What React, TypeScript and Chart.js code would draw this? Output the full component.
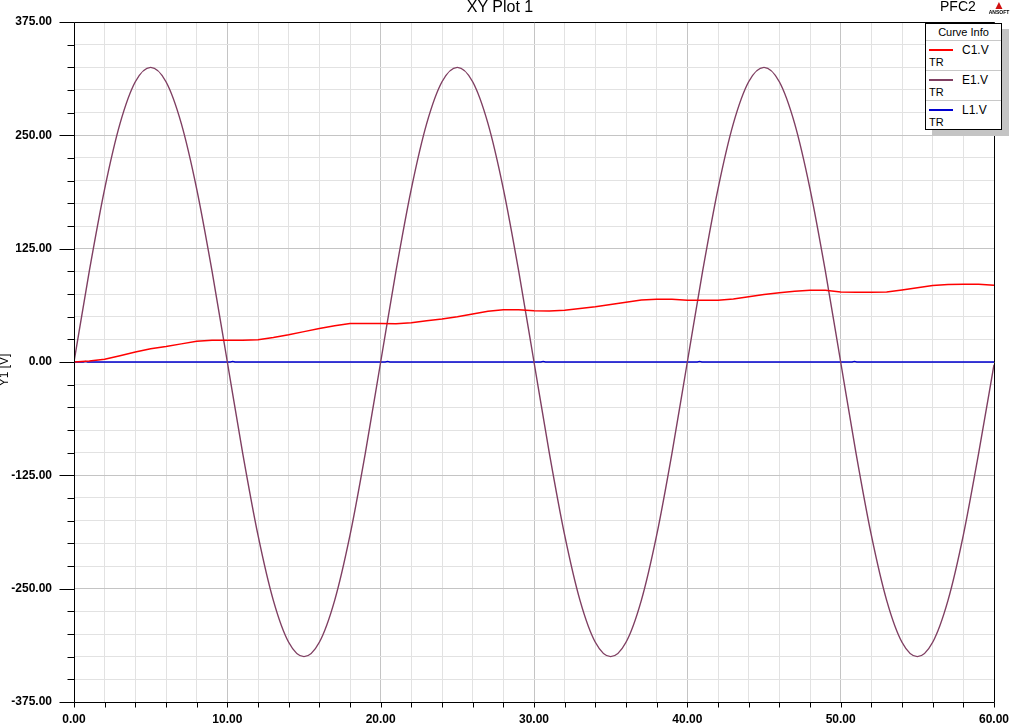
import React, { useEffect, useRef } from "react";
import { Chart, registerables } from "chart.js";

Chart.register(...registerables);

// Time axis (ms)
const timeMs = [
  0, 1, 2, 3, 4, 5, 6, 7, 8, 9, 10, 11, 12, 13, 14, 15, 16, 17, 18, 19, 20,
  21, 22, 23, 24, 25, 26, 27, 28, 29, 30, 31, 32, 33, 34, 35, 36, 37, 38, 39, 40,
  41, 42, 43, 44, 45, 46, 47, 48, 49, 50, 51, 52, 53, 54, 55, 56, 57, 58, 59, 60,
];

// E1.V source voltage (V)
const e1Values = [
  0, 100.4, 191.0, 262.9, 309.1, 325.0, 309.1, 262.9, 191.0, 100.4,
  0, -100.4, -191.0, -262.9, -309.1, -325.0, -309.1, -262.9, -191.0, -100.4,
  0, 100.4, 191.0, 262.9, 309.1, 325.0, 309.1, 262.9, 191.0, 100.4,
  0, -100.4, -191.0, -262.9, -309.1, -325.0, -309.1, -262.9, -191.0, -100.4,
  0, 100.4, 191.0, 262.9, 309.1, 325.0, 309.1, 262.9, 191.0, 100.4,
  0, -100.4, -191.0, -262.9, -309.1, -325.0, -309.1, -262.9, -191.0, -100.4,
  -3,
];

// C1.V capacitor voltage (V)
const c1Values = [
  0, 1, 3, 7, 11, 14.5, 17, 20, 22.8, 24,
  24, 24, 24.5, 27, 30, 33.5, 37, 40, 42.5, 42.6,
  42.4, 42.3, 43.3, 45.5, 47.5, 50, 53, 56, 57.5, 57.5,
  56.6, 56.2, 57.2, 59, 61, 63.5, 66, 68.3, 69.1, 69.1,
  68.2, 68, 68, 69.5, 72, 74.5, 76.5, 78, 79, 79,
  77.2, 76.9, 76.9, 77.2, 79.5, 82, 84.3, 85.5, 85.7, 85.7,
  84.6,
];

// L1.V inductor voltage (V)
const l1Times = [0, 0.6, 0.75, 0.9, 10.2, 10.35, 10.5, 20.3, 20.45, 20.6, 30.45, 30.6, 30.75, 40.65, 40.8, 40.95, 50.75, 50.9, 51.05, 60];
const l1Values = [0, 0, 0.7, 0, 0, 0.7, 0, 0, 0.7, 0, 0, 0.7, 0, 0, 0.7, 0, 0, 0.7, 0, 0];

const yMajorTicks = [-375, -250, -125, 0, 125, 250, 375];
const xMajorTicks = [0, 10, 20, 30, 40, 50, 60];

const FONT = "'Liberation Sans', Arial, sans-serif";
const COLOR_C1 = "#ff0000";
const COLOR_E1 = "#7f3f62";
const COLOR_L1 = "#0000d0";

const legendItems = [
  { name: "C1.V", color: COLOR_C1 },
  { name: "E1.V", color: COLOR_E1 },
  { name: "L1.V", color: COLOR_L1 },
];

const framePlugin = {
  id: "frame",
  afterDraw(chart: any) {
    const { ctx, chartArea } = chart;
    const xs = chart.scales.x;
    const ys = chart.scales.y;
    const L = Math.round(chartArea.left) + 0.5;
    const R = Math.round(chartArea.right) + 0.5;
    const T = Math.round(chartArea.top) + 0.5;
    const B = Math.round(chartArea.bottom) + 0.5;
    ctx.save();
    ctx.strokeStyle = "#000";
    ctx.lineWidth = 1;
    ctx.beginPath();
    ctx.rect(L, T, R - L, B - T);
    for (let v = -375; v <= 375; v += 25) {
      const py = Math.round(ys.getPixelForValue(v)) + 0.5;
      const len = yMajorTicks.includes(v) ? 15 : 7;
      ctx.moveTo(L - len, py);
      ctx.lineTo(L, py);
    }
    for (let v = 0; v <= 60; v += 2) {
      const px = Math.round(xs.getPixelForValue(v)) + 0.5;
      ctx.moveTo(px, B);
      ctx.lineTo(px, B + 5);
    }
    ctx.stroke();
    ctx.fillStyle = "#000";
    ctx.font = `12px ${FONT}`;
    ctx.translate(5, 370);
    ctx.rotate(-Math.PI / 2);
    ctx.textAlign = "center";
    ctx.textBaseline = "middle";
    ctx.fillText("Y1 [V]", 0, 0);
    ctx.restore();
  },
};

export default function App() {
  const canvasRef = useRef<HTMLCanvasElement | null>(null);

  useEffect(() => {
    document.body.style.margin = "0";
    const canvas = canvasRef.current;
    if (!canvas) return;
    const chart = new Chart(canvas, {
      type: "line",
      data: {
        datasets: [
          {
            label: "C1.V",
            data: timeMs.map((t, i) => ({ x: t, y: c1Values[i] })),
            borderColor: COLOR_C1,
            borderWidth: 1.5,
            pointRadius: 0,
            fill: false,
          },
          {
            label: "E1.V",
            data: timeMs.map((t, i) => ({ x: t, y: e1Values[i] })),
            borderColor: COLOR_E1,
            borderWidth: 1.4,
            pointRadius: 0,
            cubicInterpolationMode: "monotone",
            fill: false,
          },
          {
            label: "L1.V",
            data: l1Times.map((t, i) => ({ x: t, y: l1Values[i] })),
            borderColor: COLOR_L1,
            borderWidth: 1.4,
            pointRadius: 0,
            fill: false,
          },
        ],
      },
      options: {
        responsive: false,
        animation: false,
        devicePixelRatio: 1,
        layout: { padding: { top: 22, right: 22, left: 0, bottom: 0 } },
        plugins: { legend: { display: false }, tooltip: { enabled: false }, title: { display: false } },
        scales: {
          x: {
            type: "linear",
            min: 0,
            max: 60,
            border: { display: false },
            grid: {
              drawTicks: false,
              color: (c: any) => (xMajorTicks.includes(c.tick.value) ? "#c4c4c4" : "#e2e2e2"),
              lineWidth: 1,
            },
            ticks: {
              stepSize: 2,
              autoSkip: false,
              maxRotation: 0,
              padding: 10,
              color: "#000",
              font: { family: FONT, size: 12, weight: "bold" },
              callback: (v: any) => (xMajorTicks.includes(Number(v)) ? Number(v).toFixed(2) : ""),
            },
            afterFit: (s: any) => {
              s.height = 25;
              s.paddingLeft = 0;
              s.paddingRight = 0;
            },
          },
          y: {
            type: "linear",
            min: -375,
            max: 375,
            border: { display: false },
            grid: {
              drawTicks: false,
              color: (c: any) => (yMajorTicks.includes(c.tick.value) ? "#c4c4c4" : "#e2e2e2"),
              lineWidth: 1,
            },
            ticks: {
              stepSize: 25,
              autoSkip: false,
              padding: 22,
              color: "#000",
              font: { family: FONT, size: 12, weight: "bold" },
              callback: (v: any) => (yMajorTicks.includes(Number(v)) ? Number(v).toFixed(2) : ""),
            },
            afterFit: (s: any) => {
              s.width = 74;
              s.paddingTop = 0;
              s.paddingBottom = 0;
            },
          },
        },
      },
      plugins: [framePlugin],
    } as any);
    return () => chart.destroy();
  }, []);

  const legendLeft = 925;
  const legendTop = 23;
  const legendW = 77;
  const legendH = 107;

  return (
    <div style={{ position: "absolute", left: 0, top: 0, width: 1016, height: 727, background: "#fff", overflow: "hidden", fontFamily: FONT }}>
      <canvas ref={canvasRef} width={1016} height={727} style={{ position: "absolute", left: 0, top: 0, width: 1016, height: 727 }} />
      <div style={{ position: "absolute", left: 400, top: -1, width: 200, textAlign: "center", fontSize: 16, lineHeight: "16px", color: "#000" }}>XY Plot 1</div>
      <div style={{ position: "absolute", left: 940, top: -1, fontSize: 14, lineHeight: "14px", color: "#000" }}>PFC2</div>
      <div style={{ position: "absolute", left: 984, top: -1, width: 30, textAlign: "center", color: "#d01010", fontSize: 12, lineHeight: "12px" }}>▲</div>
      <div style={{ position: "absolute", left: 984, top: 10, width: 30, textAlign: "center", color: "#000", fontSize: 5, lineHeight: "5px", fontWeight: "bold" }}>ANSOFT</div>
      <div style={{ position: "absolute", left: legendLeft + 7, top: legendTop + 6, width: legendW, height: legendH, background: "#c4c4c4" }} />
      <div style={{ position: "absolute", left: legendLeft, top: legendTop, width: legendW - 2, height: legendH - 2, background: "#fff", border: "1px solid #000" }}>
        <div style={{ height: 16, lineHeight: "16px", textAlign: "center", fontSize: 11, color: "#000", borderBottom: "1px solid #c8c8c8" }}>Curve Info</div>
        {legendItems.map((it, i) => (
          <div key={it.name} style={{ position: "relative", height: 29, borderBottom: i < legendItems.length - 1 ? "1px solid #c8c8c8" : "none" }}>
            <div style={{ position: "absolute", left: 3, top: 8, width: 24, height: 2, background: it.color }} />
            <div style={{ position: "absolute", left: 36, top: 2, fontSize: 12, lineHeight: "14px", color: "#000" }}>{it.name}</div>
            <div style={{ position: "absolute", left: 3, top: 14, fontSize: 11, lineHeight: "14px", color: "#000" }}>TR</div>
          </div>
        ))}
      </div>
    </div>
  );
}
